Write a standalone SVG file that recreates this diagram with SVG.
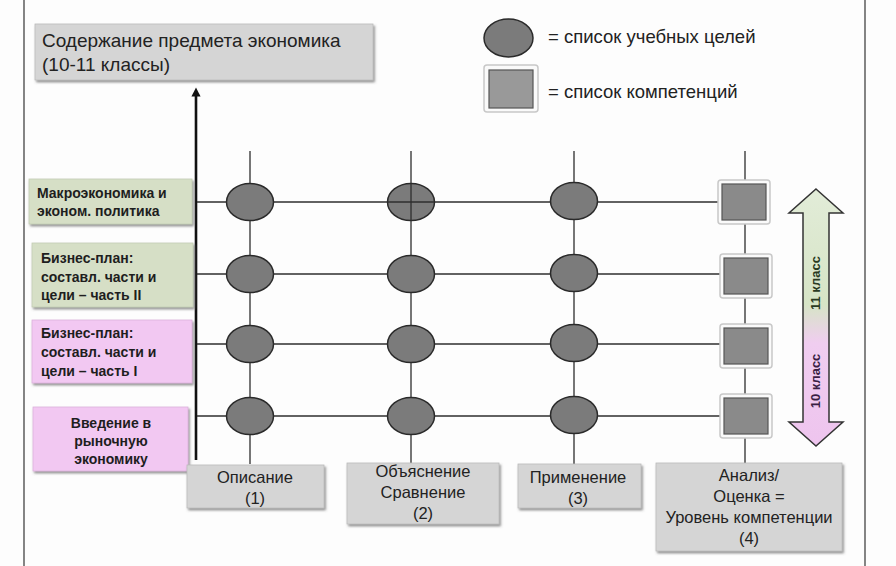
<svg xmlns="http://www.w3.org/2000/svg" width="896" height="566" viewBox="0 0 896 566">
<defs>
<filter id="sh" x="-10%" y="-10%" width="130%" height="140%">
<feDropShadow dx="1.5" dy="2" stdDeviation="1" flood-color="#666" flood-opacity="0.7"/>
</filter>
<linearGradient id="ag" x1="0" y1="0" x2="0" y2="1">
<stop offset="0" stop-color="#e2ecd8"/>
<stop offset="0.45" stop-color="#d6e4c6"/>
<stop offset="0.6" stop-color="#f0cdf0"/>
<stop offset="1" stop-color="#eec4ee"/>
</linearGradient>
<marker id="ah" viewBox="0 0 10 10" refX="5" refY="5" markerWidth="3.5" markerHeight="3.5" orient="auto">
<path d="M0,0 L10,5 L0,10 z" fill="#111"/>
</marker>
<g id="sq">
<rect x="-26" y="-22" width="52" height="44" rx="3" fill="#fafafa" stroke="#c8c8c8" stroke-width="1.5"/>
<rect x="-22" y="-18" width="44" height="36" fill="#8a8a8a" stroke="#555" stroke-width="1.2"/>
</g>
</defs>
<style>
.frame{stroke:#444;stroke-width:1.3;fill:none}
.grid{stroke:#2e2e2e;stroke-width:1.3;fill:none}
.el{fill:#7b7b7b;stroke:#2a2a2a;stroke-width:1.5}
.gbox{fill:#d5d5d5;stroke:#bbb;stroke-width:0.8}
.green{fill:#d6dfc6;stroke:#c4ccb4;stroke-width:0.8}
.pink{fill:#f2c8f2;stroke:#dcb2dc;stroke-width:0.8}
.lt{font-family:"Liberation Sans",Arial,sans-serif;font-size:14px;font-weight:bold;fill:#1e1e1e}
.bt{font-family:"Liberation Sans",Arial,sans-serif;font-size:16.5px;fill:#222;text-anchor:middle}
.tt{font-family:"Liberation Sans",Arial,sans-serif;font-size:19px;fill:#222}
.leg{font-family:"Liberation Sans",Arial,sans-serif;font-size:18.5px;fill:#222}
.rt{font-family:"Liberation Sans",Arial,sans-serif;font-size:13px;font-weight:bold;text-anchor:middle}
</style>
<rect width="896" height="566" fill="#fdfdfd"/>
<line class="frame" x1="24" y1="0" x2="24" y2="566"/>
<line class="frame" x1="865" y1="0" x2="865" y2="566"/>

<g id="connectors">
<line x1="196" y1="460" x2="196" y2="92" stroke="#111" stroke-width="2.6" marker-end="url(#ah)"/>
<line class="grid" x1="250" y1="151" x2="250" y2="464"/>
<line class="grid" x1="411" y1="151" x2="411" y2="463"/>
<line class="grid" x1="574" y1="151" x2="574" y2="464"/>
<line class="grid" x1="745" y1="151" x2="745" y2="463"/>
<line class="grid" x1="197" y1="202" x2="720" y2="202"/>
<line class="grid" x1="197" y1="274" x2="720" y2="274"/>
<line class="grid" x1="197" y1="344" x2="720" y2="344"/>
<line class="grid" x1="197" y1="416" x2="720" y2="416"/>
</g>

<g id="title">
<rect x="35" y="24" width="338" height="56" class="gbox" filter="url(#sh)"/>
<text class="tt" x="42" y="47">Содержание предмета экономика</text>
<text class="tt" x="42" y="71">(10-11 классы)</text>
</g>

<g id="legend">
<ellipse cx="508.5" cy="38" rx="24.5" ry="19" class="el" stroke="#888"/>
<text class="leg" x="548" y="43">= список учебных целей</text>
<rect x="484" y="65" width="54" height="47" rx="3" fill="#fafafa" stroke="#c8c8c8" stroke-width="1.5"/>
<rect x="489" y="70" width="44" height="38" fill="#999" stroke="#555" stroke-width="1.2"/>
<text class="leg" x="548" y="98">= список компетенций</text>
</g>

<g id="row1-label">
<rect x="29" y="179" width="163" height="45" class="green" filter="url(#sh)"/>
<text class="lt" x="37" y="198">Макроэкономика и</text>
<text class="lt" x="37" y="216">эконом. политика</text>
</g>
<g id="row2-label">
<rect x="32" y="243" width="161" height="64" class="green" filter="url(#sh)"/>
<text class="lt" x="41" y="263">Бизнес-план:</text>
<text class="lt" x="41" y="282">составл. части и</text>
<text class="lt" x="41" y="300">цели – часть II</text>
</g>
<g id="row3-label">
<rect x="32" y="320" width="160" height="63" class="pink" filter="url(#sh)"/>
<text class="lt" x="41" y="338">Бизнес-план:</text>
<text class="lt" x="41" y="357">составл. части и</text>
<text class="lt" x="41" y="376">цели – часть I</text>
</g>
<g id="row4-label">
<rect x="33" y="407" width="155" height="64" class="pink" filter="url(#sh)"/>
<text class="lt" x="111" y="428" text-anchor="middle">Введение в</text>
<text class="lt" x="111" y="446" text-anchor="middle">рыночную</text>
<text class="lt" x="111" y="464" text-anchor="middle">экономику</text>
</g>

<g id="col1-label">
<rect x="187" y="465" width="137" height="43" class="gbox" filter="url(#sh)"/>
<text class="bt" x="255" y="483">Описание</text>
<text class="bt" x="255" y="504">(1)</text>
</g>
<g id="col2-label">
<rect x="347" y="463" width="152" height="61" class="gbox" filter="url(#sh)"/>
<text class="bt" x="423" y="477">Объяснение</text>
<text class="bt" x="423" y="498">Сравнение</text>
<text class="bt" x="423" y="519">(2)</text>
</g>
<g id="col3-label">
<rect x="518" y="464" width="123" height="44" class="gbox" filter="url(#sh)"/>
<text class="bt" x="578" y="483">Применение</text>
<text class="bt" x="578" y="504">(3)</text>
</g>
<g id="col4-label">
<rect x="656" y="463" width="186" height="88" class="gbox" filter="url(#sh)"/>
<text class="bt" x="749" y="481">Анализ/</text>
<text class="bt" x="749" y="502">Оценка =</text>
<text class="bt" x="749" y="523">Уровень компетенции</text>
<text class="bt" x="749" y="544">(4)</text>
</g>

<g id="goals">
<ellipse cx="250" cy="202" rx="23.5" ry="18.5" class="el"/>
<ellipse cx="411" cy="202" rx="23.5" ry="18.5" class="el"/>
<line class="grid" x1="411" y1="184" x2="411" y2="220"/>
<line class="grid" x1="388" y1="202" x2="434" y2="202"/>
<ellipse cx="574" cy="201" rx="23.5" ry="18.5" class="el"/>
<ellipse cx="250" cy="274" rx="23.5" ry="18.5" class="el"/>
<ellipse cx="411" cy="274" rx="23.5" ry="18.5" class="el"/>
<ellipse cx="574" cy="273" rx="23.5" ry="18.5" class="el"/>
<ellipse cx="250" cy="344" rx="23.5" ry="18.5" class="el"/>
<ellipse cx="411" cy="344" rx="23.5" ry="18.5" class="el"/>
<ellipse cx="574" cy="343" rx="23.5" ry="18.5" class="el"/>
<ellipse cx="250" cy="416" rx="23.5" ry="18.5" class="el"/>
<ellipse cx="411" cy="416" rx="23.5" ry="18.5" class="el"/>
<ellipse cx="574" cy="415" rx="23.5" ry="18.5" class="el"/>
</g>

<g id="competences">
<use href="#sq" x="744" y="202"/>
<use href="#sq" x="746" y="276"/>
<use href="#sq" x="746" y="346"/>
<use href="#sq" x="746" y="416"/>
</g>

<g id="grade-arrow">
<path d="M816,189 L843,213 L829,213 L829,422 L843,422 L816,446 L789,422 L803,422 L803,213 L789,213 Z" fill="url(#ag)" stroke="#333" stroke-width="1.5" stroke-linejoin="miter"/>
<text class="rt" fill="#2a3a22" transform="translate(820,283) rotate(-90)">11 класс</text>
<text class="rt" fill="#3a1f44" transform="translate(820,381) rotate(-90)">10 класс</text>
</g>
</svg>
